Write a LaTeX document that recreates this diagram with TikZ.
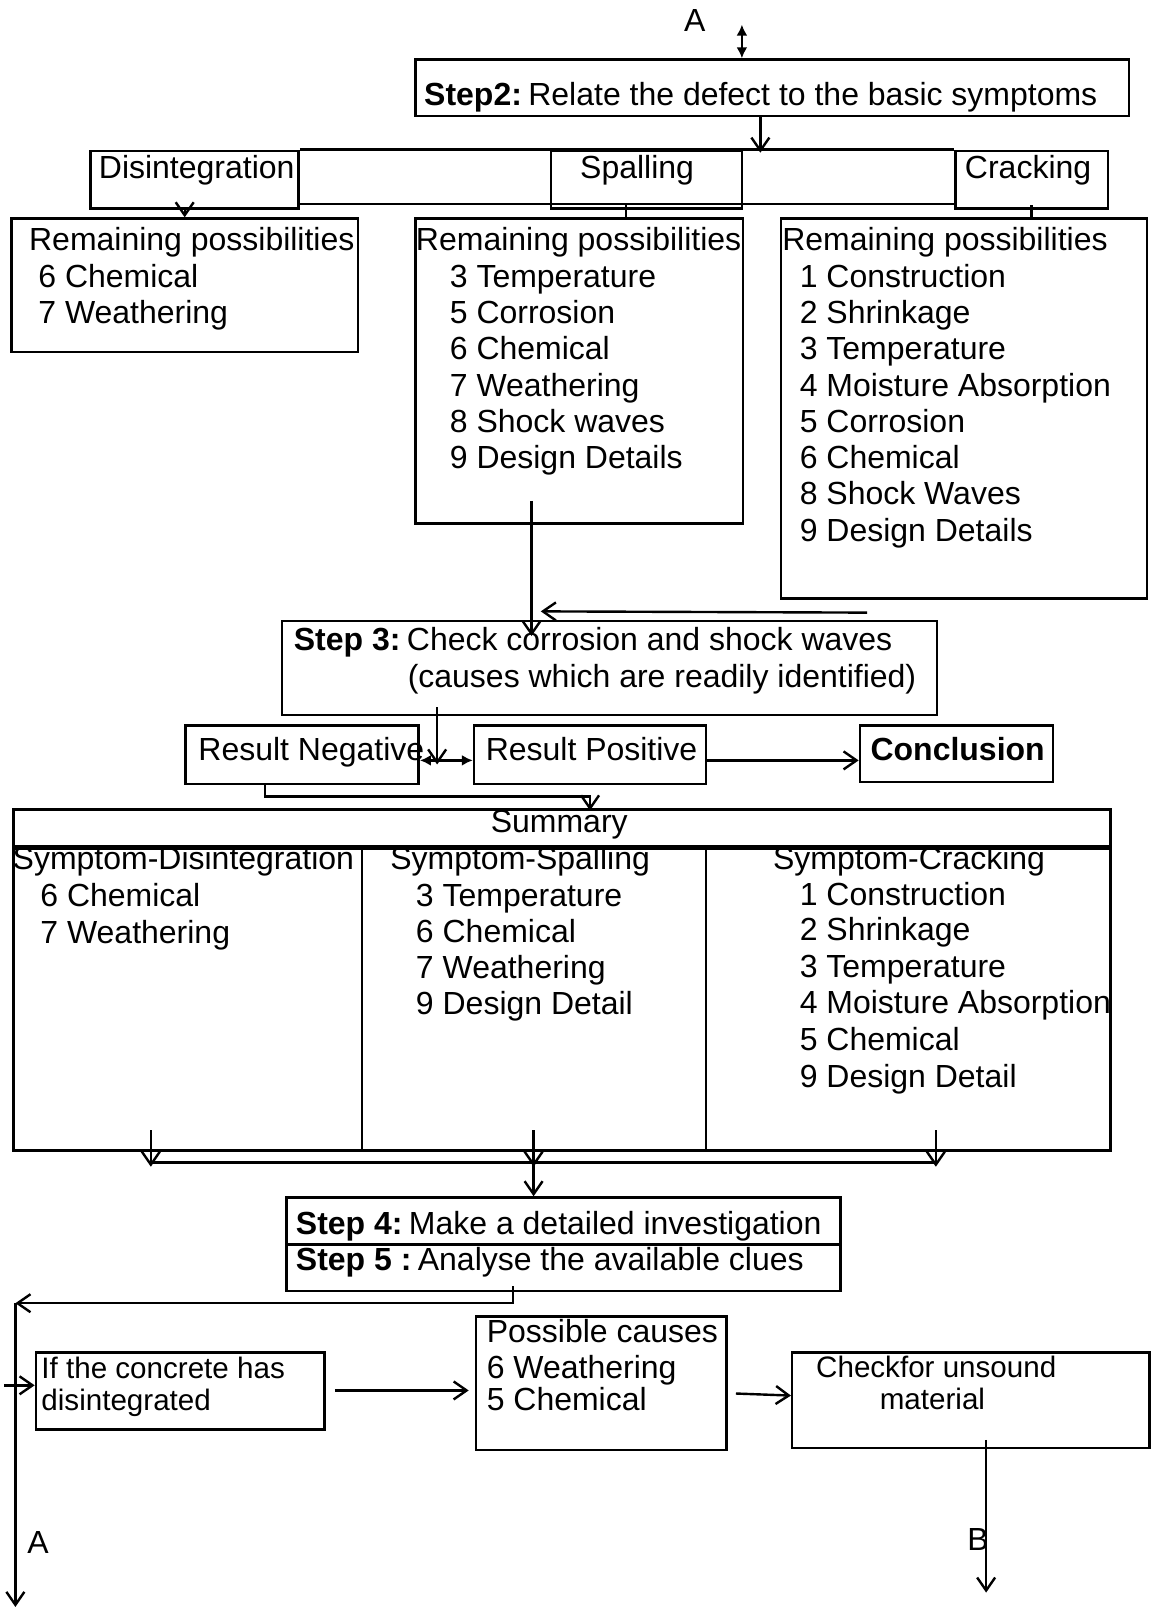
\documentclass[tikz,border=0pt]{standalone}
\usepackage{fontspec}
\setmainfont{Liberation Sans}
\usetikzlibrary{fit,calc,arrows.meta}
\newcommand\fs{\fontsize{16}{18.2}\selectfont}
\newcommand\fss{\fontsize{14.8}{16.4}\selectfont}
\begin{document}
\begin{tikzpicture}[x=0.5133pt,y=-0.5133pt,
  box/.style={draw,line width=1.25pt,inner sep=0pt,fit={#1}},
  txt/.style={anchor=base west,inner sep=0pt,font=\fs},
  txts/.style={anchor=base west,inner sep=0pt,font=\fss},
  ln/.style={line width=1.25pt},
  arr/.style={line width=1.2pt,-{Straight Barb[length=6.5pt,width=9pt]}},
  dbl/.style={line width=1.2pt,{Latex[length=5.5pt,width=5.5pt]}-{Latex[length=5.5pt,width=5.5pt]}}]
\useasboundingbox (0,0) rectangle (1128,1568);

% ---------- top ----------
\node[anchor=base,inner sep=0pt,font=\fs] (tA) at (677,31) {A};
\node[box={(405,58) (1100,113)}] (step2) {};
\node[txt] (t2) at (413,103) {\textbf{Step2:}\hspace{0.2em}Relate the defect to the basic symptoms};
\coordinate (atop) at (723,24);
\draw[dbl] (atop) -- (step2.north -| atop);

% ---------- symptom band ----------
\node[box={(88,147) (291,203)}] (dis) {};
\node[box={(537,147) (723,203)}] (spa) {};
\node[box={(931,147) (1080,203)}] (cra) {};
\draw[ln] (dis.north east) -- (cra.north west);
\draw[ln] (dis.east |- 0,199) -- (cra.west |- 0,199);
\node[txt] (tdis) at (96,174) {Disintegration};
\node[txt] (tspa) at (565,174) {Spalling};
\node[txt] (tcra) at (940,174) {Cracking};
\draw[arr] (step2.south -| 741,0) -- ($(dis.north -| 741,0)+(0,3)$);

% ---------- remaining possibilities ----------
\node[box={(11,213) (349,343)}] (rem1) {};
\node[box={(405,213) (724,510)}] (rem2) {};
\node[box={(761,213) (1118,583)}] (rem3) {};
\draw[arr] (dis.south -| 180,0) -- (rem1.north -| 180,0);
\draw[ln] (spa.south -| 610,0) ++(0,-4) -- (rem2.north -| 610,0);
\draw[ln] (cra.south -| 1005,0) ++(0,-4) -- (rem3.north -| 1005,0);

\node[txt] (r1t) at (28,244) {Remaining possibilities};
\node[txt] (r1a) at (37,280) {6 Chemical};
\node[txt] (r1b) at (37,315) {7 Weathering};

\node[txt] (r2t) at (405,244) {Remaining possibilities};
\foreach \y/\s [count=\i] in {280/3 Temperature,315/5 Corrosion,350/6 Chemical,386/7 Weathering,421/8 Shock waves,457/9 Design Details}
  \node[txt] (r2\i) at (438,\y) {\s};

\node[txt] (r3t) at (762,244) {Remaining possibilities};
\foreach \y/\s [count=\i] in {280/1 Construction,315/2 Shrinkage,350/3 Temperature,386/4 Moisture Absorption,421/5 Corrosion,457/6 Chemical,492/8 Shock Waves,528/9 Design Details}
  \node[txt] (r3\i) at (779,\y) {\s};

% ---------- step 3 ----------
\node[box={(275,605) (913,697)}] (step3) {};
\node[txt] (t3a) at (286,634) {\textbf{Step 3:}\hspace{0.2em}Check corrosion and shock waves};
\node[txt] (t3b) at (397,670) {(causes which are readily identified)};
\draw[arr] ($(rem2.south -| 518,0)+(0,-23)$) -- ($(step3.north -| 518,0)+(0,16)$);
\coordinate (rin) at (845,597);
\draw[arr] (rin) -- ($(step3.north -| 527,0)+(0,-8)$);

% ---------- results ----------
\node[box={(181,707) (408,764)}] (rneg) {};
\node[box={(462,707) (688,764)}] (rpos) {};
\node[box={(838,707) (1026,762)}] (concl) {};
\node[txt] (trn) at (193,741) {Result Negative};
\node[txt] (trp) at (473,741) {Result Positive};
\node[txt] (tcc) at (848,741) {\textbf{Conclusion}};
\draw[arr] ($(step3.south -| 426,0)+(0,-9)$) -- (426,745);
\draw[dbl] (rneg.east |- 0,741) -- (rpos.west |- 0,741);
\draw[arr] (rpos.east |- 0,741) -- (concl.west |- 0,741);

% ---------- summary ----------
\node[box={(13,789) (1082,825)}] (sumh) {};
\node[box={(13,825) (353,1121)}] (col1) {};
\node[box={(353,825) (688,1121)}] (col2) {};
\node[box={(688,825) (1082,1121)}] (col3) {};
\draw[line width=2pt] (sumh.south west) -- (sumh.south east);
\draw[arr] (rneg.south -| 258,0) -- (258,776) -- (575,776) -- ($(sumh.north -| 575,0)+(0,2)$);
\node[anchor=base,inner sep=0pt,font=\fs] (tsum) at (545,811) {Summary};
\node[txt] (h1) at (12,847) {Symptom-Disintegration};
\node[txt] (h2) at (380,847) {Symptom-Spalling};
\node[txt] (h3) at (753,847) {Symptom-Cracking};
\node[txt] (c1a) at (39,883) {6 Chemical};
\node[txt] (c1b) at (39,919) {7 Weathering};
\foreach \y/\s [count=\i] in {883/3 Temperature,918/6 Chemical,954/7 Weathering,989/9 Design Detail}
  \node[txt] (c2\i) at (405,\y) {\s};
\foreach \y/\s [count=\i] in {882/1 Construction,917/2 Shrinkage,953/3 Temperature,988/4 Moisture Absorption,1024/5 Chemical,1060/9 Design Detail}
  \node[txt] (c3\i) at (779,\y) {\s};

% ---------- merge to step 4 ----------
\node[box={(279,1167) (819,1213)}] (step4) {};
\node[box={(279,1213) (819,1258)}] (step5) {};
\node[txt] (t4) at (288,1203) {\textbf{Step 4:}\hspace{0.2em}Make a detailed investigation};
\node[txt] (t5) at (288,1238) {\textbf{Step 5 :}\hspace{0.2em}Analyse the available clues};
\draw[arr] ($(col1.south -| 147,0)+(0,-21)$) -- (147,1137);
\draw[arr] ($(col2.south -| 520,0)+(0,-21)$) -- (520,1137);
\draw[arr] ($(col3.south -| 912,0)+(0,-21)$) -- (912,1137);
\draw[ln] (147,1133) -- (912,1133);
\draw[arr] (520,1133) -- (step4.north -| 520,0);

% ---------- bottom ----------
\coordinate (lcorner) at (15,1270);
\coordinate (aend) at (15,1566);
\draw[arr] ($(step5.south -| 500,0)+(0,-6)$) -- (500,1270) -- (lcorner);
\draw[arr] (lcorner) -- (aend);
\node[anchor=base,inner sep=0pt,font=\fs] (tA2) at (37,1514) {A};

\node[box={(35,1318) (316,1393)}] (ifb) {};
\node[box={(464,1283) (708,1413)}] (poss) {};
\node[box={(772,1318) (1120,1411)}] (chk) {};
\coordinate (lin) at (4,1350);
\draw[arr] (lin) -- (ifb.west |- lin);
\node[txts] (ti1) at (40,1343) {If the concrete has};
\node[txts] (ti2) at (40,1375) {disintegrated};
\node[txt] (tp1) at (474,1308) {Possible causes};
\node[txt] (tp2) at (474,1343) {6 Weathering};
\node[txt] (tp3) at (474,1375) {5 Chemical};
\node[txts] (tc1) at (795,1342) {Checkfor unsound};
\node[txts] (tc2) at (857,1374) {material};
\draw[arr] ($(ifb.east |- 0,1355)+(9,0)$) -- ($(poss.west |- 0,1355)+(-6,0)$);
\draw[arr] ($(poss.east |- 0,1358)+(8,0)$) -- (chk.west |- 0,1360);
\coordinate (bend) at (961,1552);
\draw[arr] ($(chk.south -| bend)+(0,-9)$) -- (bend);
\node[anchor=base,inner sep=0pt,font=\fs] (tB) at (953,1511) {B};
\end{tikzpicture}
\end{document}
